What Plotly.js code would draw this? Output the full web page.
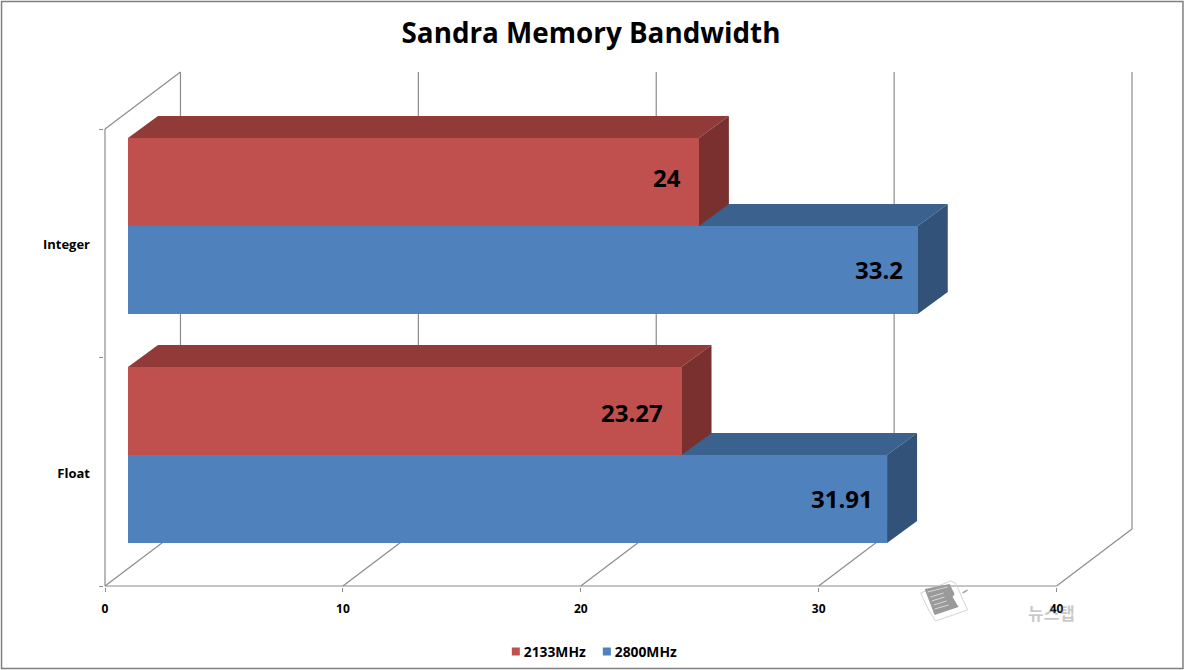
<!DOCTYPE html>
<html><head><meta charset="utf-8">
<script src="https://cdn.plot.ly/plotly-3.0.1.min.js"></script>
<style>html,body{margin:0;padding:0;background:#fff;overflow:hidden}</style>
</head><body><div id="chart" style="width:1185px;height:670px"></div>
<script>
// ---- data ----
const categories = ["Float", "Integer"];
const series2133 = [23.27, 24];
const series2800 = [31.91, 33.2];
const seriesNames = ["2133MHz", "2800MHz"];
const xTicks = [0, 10, 20, 30, 40];
const chartTitle = "Sandra Memory Bandwidth";
const watermark = "뉴스탭";

// ---- geometry of the pseudo-3D projection (pixels) ----
const X0 = 105, X40 = 1057, Y0 = 586, YTOP = 129;
const pxX = (X40 - X0) / 40, pxY = (Y0 - YTOP) / 2;
const BACK_DX = 75.5 / pxX, BACK_DY = 57 / pxY;     // wall depth
const BAR_DX = 23 / pxX;                            // bar start offset
const TOP_DX = 30 / pxX, TOP_DY = 22 / pxY;         // bar depth
const BAR_H = 88 / pxY;
const blueBottom = c => (Y0 - 543) / pxY + c * (229 / pxY);
const redBottom = c => blueBottom(c) + BAR_H;
const RED = {front:"#C0504D", top:"#923A38", side:"#7A302E"};
const BLUE = {front:"#4F81BD", top:"#3B618E", side:"#32527A"};
const GRID = "#8c8c8c";
const FONT = "Open Sans, Noto Sans, sans-serif";

const xMin = -1 / pxX, xMax = 40 + BACK_DX + 2 / pxX;
const yMin = -1 / pxY, yMax = 2 + BACK_DY + 1 / pxY;
const PL = X0 + xMin*pxX, PW = (xMax-xMin)*pxX, PT = Y0 - yMax*pxY, PH = (yMax-yMin)*pxY;
const paperX = px => (px - PL) / PW, paperY = py => 1 - (py - PT) / PH;

const shapes = [];
const line = (x0, y0, x1, y1) => shapes.push({type:"line", xref:"x", yref:"y", layer:"between",
  x0, y0, x1, y1, line:{color:GRID, width:1.2}});
const poly = (pts, fill) => shapes.push({type:"path", xref:"x", yref:"y", layer:"between",
  path:"M" + pts.map(p => p[0] + "," + p[1]).join("L") + "Z", fillcolor:fill, line:{width:0}});

// page frame
shapes.push({type:"rect", xref:"paper", yref:"paper", layer:"below",
  x0:paperX(1.5), x1:paperX(1183.5), y0:paperY(668.5), y1:paperY(1.5),
  line:{color:"#7f7f7f", width:1.5}, fillcolor:"rgba(0,0,0,0)"});

// walls and floor
xTicks.forEach(t => {
  line(t, 0, t + BACK_DX, BACK_DY);
  line(t + BACK_DX, BACK_DY, t + BACK_DX, 2 + BACK_DY);
});
line(0, 0, 0, 2);
line(0, 0, 40, 0);
line(0, 2, BACK_DX, 2 + BACK_DY);

// top and side faces computed from the values
function faces(values, yOf, col) {
  values.forEach((v, c) => {
    const yb = yOf(c), yt = yb + BAR_H, x0 = BAR_DX, x1 = BAR_DX + v;
    poly([[x0,yt],[x0+TOP_DX,yt+TOP_DY],[x1+TOP_DX,yt+TOP_DY],[x1,yt]], col.top);
    poly([[x1,yb],[x1+TOP_DX,yb+TOP_DY],[x1+TOP_DX,yt+TOP_DY],[x1,yt]], col.side);
  });
}
faces(series2800, blueBottom, BLUE);
faces(series2133, redBottom, RED);

// watermark glyph (newspaper)
const pxPath = pts => "M" + pts.map(p => paperX(p[0]) + "," + paperY(p[1])).join("L") + "Z";
shapes.push({type:"path", xref:"paper", yref:"paper", layer:"above",
  path:pxPath([[921,593],[951,581],[956,583],[968,610],[936,621],[929,610]]),
  fillcolor:"rgba(0,0,0,0)", line:{color:"#d4d4d4", width:1}});
shapes.push({type:"path", xref:"paper", yref:"paper", layer:"above",
  path:pxPath([[925,589],[950,584],[955,594],[953,597],[959,607],[935,615]]),
  fillcolor:"#9a9a9a", line:{width:0}});
[[[928,592],[948,587]],[[931,597],[944,593]],[[932,601],[945,597]],[[934,605],[947,601]],[[935,609],[949,605]]].forEach(s => {
  shapes.push({type:"line", xref:"paper", yref:"paper", layer:"above",
    x0:paperX(s[0][0]), y0:paperY(s[0][1]), x1:paperX(s[1][0]), y1:paperY(s[1][1]),
    line:{color:"#d8d8d8", width:1}});
});
shapes.push({type:"line", xref:"paper", yref:"paper", layer:"above",
  x0:paperX(963), y0:paperY(593), x1:paperX(968), y1:paperY(590), line:{color:"#aaaaaa", width:1.5}});

const labelFont = {family:FONT, size:24, color:"#000", weight:700};
const labelGap = {r:[17, 16], b:[12, 13]};
const labelShift = {r:[-1, 5], b:[1, 1]};
const annotations = [];
function valueLabels(values, yOf, gaps, shifts) {
  values.forEach((v, c) => annotations.push({
    xref:"x", yref:"y", x:BAR_DX + v - gaps[c]/pxX, y:yOf(c) + BAR_H/2,
    text:String(v), showarrow:false, xanchor:"right", yanchor:"middle", font:labelFont, yshift:shifts[c]
  }));
}
valueLabels(series2133, redBottom, labelGap.r, labelShift.r);
valueLabels(series2800, blueBottom, labelGap.b, labelShift.b);
annotations.push({xref:"paper", yref:"paper", x:paperX(1052), y:paperY(612), text:watermark, showarrow:false,
  xanchor:"center", yanchor:"middle", font:{family:"Noto Sans CJK KR", size:17, color:"rgba(110,110,110,0.38)", weight:700}});

const yC = categories.map((_, i) => i + 0.5 - 1.5 / pxY);
function barTrace(name, values, yOf, color) {
  return {type:"bar", orientation:"h", name, x:values, base:values.map(() => BAR_DX),
    y:values.map((_, c) => yOf(c) + BAR_H/2), width:BAR_H,
    marker:{color, line:{width:0}}, hoverinfo:"x+name"};
}
const traces = [
  barTrace(seriesNames[0], series2133, redBottom, RED.front),
  barTrace(seriesNames[1], series2800, blueBottom, BLUE.front)
];
const layout = {
  width:1185, height:670, paper_bgcolor:"#fff", plot_bgcolor:"rgba(0,0,0,0)",
  margin:{l:PL, r:1185-PL-PW, t:PT, b:670-PT-PH, pad:0, autoexpand:false},
  barmode:"overlay", bargap:0,
  title:{text:chartTitle, x:591/1185, xanchor:"center", y:1-33/670, yanchor:"middle",
    font:{family:FONT, size:27.8, color:"#000", weight:700}},
  xaxis:{range:[xMin,xMax], showgrid:false, zeroline:false, showline:false, tickmode:"array",
    tickvals:xTicks, ticks:"outside", ticklen:4, tickcolor:GRID, tickwidth:1,
    tickfont:{family:FONT, size:12, color:"#000", weight:700}, ticklabelstandoff:7},
  yaxis:{range:[yMin,yMax], showgrid:false, zeroline:false, showline:false, tickmode:"array",
    tickvals:yC, ticktext:categories, ticks:"", ticklabelstandoff:13,
    tickfont:{family:FONT, size:13, color:"#000", weight:700},
    minor:{tickmode:"array", tickvals:[0,1,2], ticks:"outside", ticklen:4, tickcolor:GRID, tickwidth:1, showgrid:false}},
  showlegend:true,
  legend:{orientation:"h", x:paperX(484), xanchor:"left", y:paperY(636), yanchor:"top", traceorder:"normal",
    font:{family:FONT, size:13.8, color:"#000", weight:700}, bgcolor:"rgba(0,0,0,0)"},
  shapes, annotations
};

Plotly.newPlot("chart", traces, layout, {displayModeBar:false, staticPlot:true}).then(gd => {
  // tighten legend swatches to the reference's small squares
  const items = gd.querySelectorAll(".legend .traces");
  items.forEach((g, i) => {
    const p = g.querySelector(".legendpoints path");
    if (p) { p.setAttribute("d", "M4,4H-4V-4H4Z"); }
    const lp = g.querySelector(".legendpoints");
    if (lp) lp.setAttribute("transform", "translate(12,0)");
    if (i === 1) {
      const m = /translate\(([^,]+),\s*([^)]+)\)/.exec(items[0].getAttribute("transform"));
      const y = m ? m[2] : 0, x = m ? parseFloat(m[1]) : 0;
      g.setAttribute("transform", "translate(" + (x + 91) + "," + y + ")");
    }
  });
});
</script></body></html>
